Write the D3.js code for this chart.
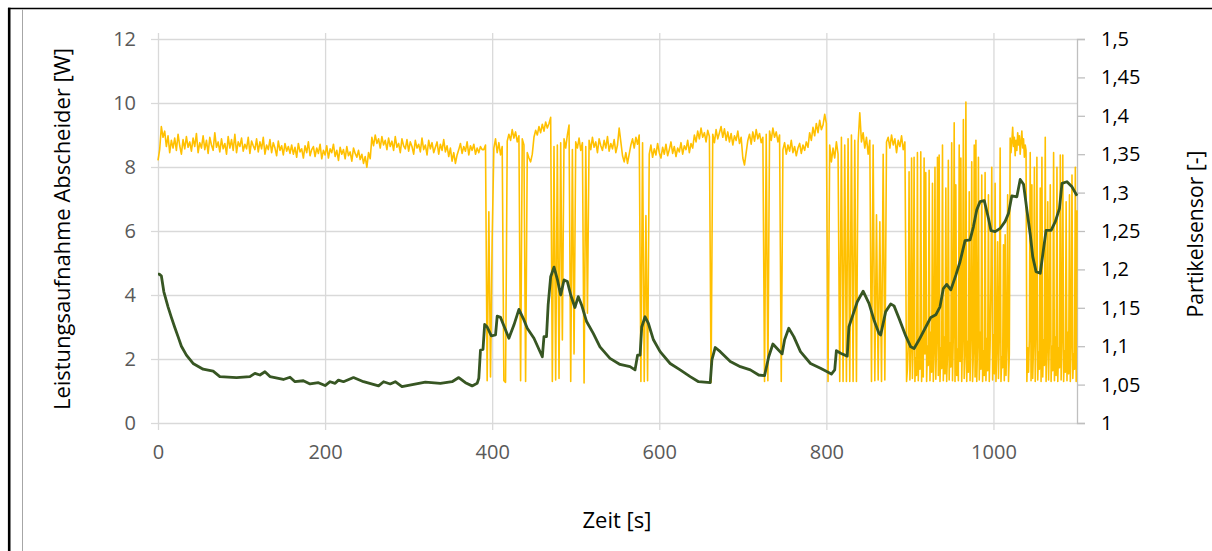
<!DOCTYPE html>
<html>
<head>
<meta charset="utf-8">
<script src="https://cdn.jsdelivr.net/npm/d3@7"></script>
<style>
  body { margin: 0; background: #ffffff; }
  text { font-family: "Open Sans", "Noto Sans", sans-serif; }
</style>
</head>
<body>
<div id="chart-area"></div>
<script>
// LEISTUNGSAUFNAHME ABSCHEIDER / PARTIKELSENSOR

// Data
const xTicks = [0, 200, 400, 600, 800, 1000]
const leftTicks = [0, 2, 4, 6, 8, 10, 12]
const rightTicks = [1, 1.05, 1.1, 1.15, 1.2, 1.25, 1.3, 1.35, 1.4, 1.45, 1.5]
const rightTickLabels = ["1", "1,05", "1,1", "1,15", "1,2", "1,25", "1,3", "1,35", "1,4", "1,45", "1,5"]

// Power draw of the separator [W], read as [time s, value]
const powerData = [
  [0, 4.65], [1.5, 4.65], [4, 4.6], [7, 4.1], [12, 3.63], [16, 3.3], [20, 2.99], [24, 2.7], [28, 2.4],
  [34, 2.12], [42, 1.86], [54, 1.68], [66, 1.62], [74, 1.45], [94, 1.42], [110, 1.45], [116, 1.55],
  [122, 1.5], [128, 1.6], [134, 1.45], [150, 1.36], [158, 1.43], [164, 1.29], [174, 1.32], [182, 1.22],
  [192, 1.26], [200, 1.17], [206, 1.29], [212, 1.24], [216, 1.34], [222, 1.29], [234, 1.42], [246, 1.29],
  [264, 1.16], [270, 1.29], [278, 1.22], [284, 1.29], [292, 1.14], [306, 1.21], [320, 1.28], [338, 1.24],
  [352, 1.29], [360, 1.42], [368, 1.26], [376, 1.16], [382, 1.24], [384, 1.4], [386, 2.28], [389, 2.3],
  [391, 3.08], [394, 3.0], [399, 2.72], [404, 2.75], [406, 3.34], [410, 3.3], [420, 2.65], [426, 3.06],
  [432, 3.55], [438, 3.22], [442, 2.96], [450, 2.65], [460, 2.07], [462, 2.7], [465, 2.7], [467, 3.69],
  [470, 4.57], [474, 4.87], [478, 4.49], [482, 4.0], [486, 4.47], [490, 4.42], [494, 4.0], [499, 3.61],
  [503, 3.95], [507, 3.69], [513, 3.17], [521, 2.8], [529, 2.38], [541, 2.02], [553, 1.83], [565, 1.76],
  [571, 1.66], [574, 2.12], [577, 2.12], [579, 3.0], [583, 3.32], [587, 3.11], [593, 2.6], [601, 2.23],
  [613, 1.86], [625, 1.66], [637, 1.45], [647, 1.29], [661, 1.26], [663, 1.97], [667, 2.36], [673, 2.23],
  [685, 1.92], [697, 1.76], [709, 1.66], [719, 1.5], [726, 1.48], [731, 2.07], [736, 2.47], [741, 2.33],
  [747, 2.16], [750, 2.6], [755, 2.96], [761, 2.7], [769, 2.23], [781, 1.86], [793, 1.71], [801, 1.6],
  [806, 1.53], [810, 1.66], [812, 2.26], [817, 2.18], [825, 2.09], [827, 3.01], [831, 3.32], [837, 3.79],
  [844, 4.12], [851, 3.74], [857, 3.22], [863, 2.8], [865, 2.75], [871, 3.48], [877, 3.72], [881, 3.66],
  [887, 3.27], [895, 2.72], [901, 2.38], [905, 2.33], [911, 2.6], [919, 3.0], [925, 3.3], [931, 3.38],
  [936, 3.63], [940, 4.2], [944, 4.33], [949, 4.16], [955, 4.62], [960, 5.04], [966, 5.7], [972, 5.72],
  [976, 6.13], [980, 6.66], [984, 6.92], [989, 6.95], [994, 6.4], [997, 6.01], [1002, 5.98], [1008, 6.08],
  [1014, 6.3], [1018, 6.55], [1022, 7.1], [1028, 7.07], [1032, 7.61], [1036, 7.46], [1040, 6.66],
  [1044, 5.9], [1047, 5.2], [1051, 4.73], [1056, 4.68], [1060, 5.45], [1063, 6.02], [1069, 6.02],
  [1074, 6.29], [1079, 6.7], [1082, 7.49], [1088, 7.54], [1094, 7.38], [1100, 7.1]
]

// Particle sensor [-], 0 s to 894 s every 2 s
const sensorEarlyStep = 2
const sensorEarly = [
  // 0 s
  1.342, 1.356, 1.386, 1.372, 1.380, 1.360, 1.374, 1.352, 1.368, 1.358, 1.371, 1.355, 1.376, 1.361, 1.350, 1.369, 1.357, 1.373, 1.359, 1.366,
  // 40 s
  1.354, 1.371, 1.360, 1.377, 1.352, 1.365, 1.358, 1.374, 1.356, 1.368, 1.351, 1.372, 1.362, 1.355, 1.378, 1.359, 1.366, 1.353, 1.370, 1.357,
  // 80 s
  1.364, 1.350, 1.373, 1.358, 1.369, 1.355, 1.376, 1.352, 1.366, 1.360, 1.371, 1.354, 1.363, 1.357, 1.372, 1.351, 1.367, 1.361, 1.356, 1.370,
  // 120 s
  1.353, 1.366, 1.357, 1.372, 1.350, 1.362, 1.356, 1.369, 1.352, 1.365, 1.358, 1.348, 1.367, 1.355, 1.361, 1.349, 1.364, 1.354, 1.360, 1.351,
  // 160 s
  1.362, 1.350, 1.359, 1.346, 1.364, 1.353, 1.357, 1.345, 1.361, 1.352, 1.366, 1.348, 1.356, 1.360, 1.347, 1.358, 1.351, 1.363, 1.344, 1.355,
  // 200 s
  1.349, 1.361, 1.345, 1.357, 1.352, 1.363, 1.347, 1.355, 1.342, 1.359, 1.350, 1.356, 1.344, 1.360, 1.348, 1.353, 1.341, 1.358, 1.351, 1.346,
  // 240 s
  1.355, 1.343, 1.350, 1.338, 1.347, 1.333, 1.352, 1.344, 1.372, 1.361, 1.375, 1.364, 1.370, 1.358, 1.373, 1.362, 1.368, 1.356, 1.371, 1.360,
  // 280 s
  1.367, 1.355, 1.373, 1.359, 1.364, 1.352, 1.370, 1.361, 1.357, 1.369, 1.354, 1.366, 1.360, 1.350, 1.368, 1.358, 1.363, 1.353, 1.371, 1.356,
  // 320 s
  1.362, 1.349, 1.368, 1.357, 1.365, 1.352, 1.359, 1.366, 1.350, 1.363, 1.355, 1.369, 1.353, 1.361, 1.347, 1.358, 1.341, 1.352, 1.338, 1.349,
  // 360 s
  1.356, 1.364, 1.351, 1.360, 1.354, 1.366, 1.349, 1.361, 1.355, 1.363, 1.350, 1.358, 1.352, 1.360, 1.356,
  // 390 s
  1.356, 1.362, 1.055, 1.275, 1.060, 1.240, 1.358, 1.370, 1.352, 1.365, 1.349, 1.360, 1.055, 1.053, 1.367, 1.376, 1.368, 1.382, 1.371, 1.379,
  // 430 s
  1.366, 1.374, 1.055, 1.370, 1.362, 1.054, 1.352, 1.345, 1.340, 1.350, 1.372, 1.381, 1.375, 1.386, 1.378, 1.389, 1.380, 1.392, 1.384, 1.390,
  // 470 s
  1.398, 1.054, 1.360, 1.056, 1.362, 1.058, 1.365, 1.108, 1.370, 1.358, 1.375, 1.388, 1.054, 1.356, 1.090, 1.366, 1.358, 1.371, 1.355, 1.365,
  // 510 s
  1.052, 1.360, 1.143, 1.368, 1.356, 1.372, 1.359, 1.366, 1.352, 1.370, 1.361, 1.355, 1.368, 1.358, 1.373, 1.354, 1.364, 1.357, 1.369, 1.352,
  // 550 s
  1.362, 1.384, 1.366, 1.348, 1.340, 1.352, 1.338, 1.350, 1.362, 1.370, 1.358, 1.372, 1.363, 1.375, 1.054, 1.365, 1.054, 1.270, 1.055, 1.350,
  // 590 s
  1.362, 1.346, 1.357, 1.349, 1.364, 1.352, 1.345, 1.359, 1.350, 1.363, 1.348, 1.356, 1.366, 1.351, 1.360, 1.347, 1.358, 1.353, 1.365, 1.350,
  // 630 s
  1.361, 1.356, 1.368, 1.352, 1.364, 1.358, 1.375, 1.366, 1.380, 1.370, 1.384, 1.372, 1.378, 1.366, 1.381, 1.373, 1.053, 1.376, 1.365, 1.382,
  // 670 s
  1.370, 1.378, 1.386, 1.372, 1.383, 1.368, 1.379, 1.366, 1.377, 1.362, 1.374, 1.368, 1.380, 1.364, 1.372, 1.345, 1.336, 1.352, 1.368, 1.376,
  // 710 s
  1.363, 1.379, 1.367, 1.382, 1.370, 1.377, 1.365, 1.372, 1.054, 1.376, 1.055, 1.380, 1.368, 1.384, 1.372, 1.379, 1.366, 1.375, 1.054, 1.356,
  // 750 s
  1.365, 1.350, 1.362, 1.354, 1.368, 1.352, 1.360, 1.348, 1.358, 1.364, 1.351, 1.362, 1.355, 1.366, 1.359, 1.378, 1.368, 1.385, 1.374, 1.390,
  // 790 s
  1.378, 1.394, 1.382, 1.388, 1.402, 1.390, 1.054, 1.362, 1.340, 1.358, 1.345, 1.366, 1.350, 1.054, 1.372, 1.054, 1.362, 1.054, 1.370, 1.054,
  // 830 s
  1.375, 1.054, 1.368, 1.054, 1.365, 1.404, 1.366, 1.378, 1.358, 1.372, 1.350, 1.368, 1.054, 1.362, 1.055, 1.271, 1.056, 1.262, 1.054, 1.350,
  // 870 s
  1.056, 1.366, 1.372, 1.358, 1.375, 1.362, 1.370, 1.352, 1.368, 1.360, 1.374, 1.356, 1.366
]

// Particle sensor [-], 896 s to 1100 s every 1 s
const sensorLateStart = 896
const sensorLate = [
  // 896 s
  1.054, 1.070, 1.100, 1.327, 1.056, 1.095, 1.345, 1.058, 1.110, 1.346, 1.054, 1.085, 1.062, 1.352, 1.055, 1.105, 1.070, 1.353, 1.054, 1.115,
  // 916 s
  1.060, 1.345, 1.090, 1.326, 1.054, 1.100, 1.075, 1.329, 1.055, 1.118, 1.066, 1.312, 1.054, 1.092, 1.333, 1.057, 1.108, 1.346, 1.062, 1.349,
  // 936 s
  1.054, 1.098, 1.071, 1.362, 1.055, 1.112, 1.064, 1.306, 1.054, 1.090, 1.342, 1.056, 1.104, 1.073, 1.365, 1.055, 1.118, 1.391, 1.054, 1.310,
  // 956 s
  1.062, 1.096, 1.055, 1.362, 1.080, 1.345, 1.054, 1.110, 1.395, 1.058, 1.088, 1.418, 1.054, 1.106, 1.066, 1.301, 1.055, 1.114, 1.340, 1.054,
  // 976 s
  1.092, 1.362, 1.060, 1.368, 1.054, 1.102, 1.346, 1.056, 1.118, 1.070, 1.323, 1.054, 1.094, 1.062, 1.326, 1.055, 1.110, 1.068, 1.297, 1.054,
  // 996 s
  1.100, 1.185, 1.333, 1.056, 1.115, 1.064, 1.312, 1.054, 1.095, 1.236, 1.058, 1.112, 1.358, 1.054, 1.086, 1.072, 1.232, 1.055, 1.245, 1.062,
  // 1016 s
  1.104, 1.297, 1.054, 1.090, 1.371, 1.352, 1.366, 1.385, 1.360, 1.372, 1.348, 1.368, 1.355, 1.378, 1.362, 1.374, 1.350, 1.366, 1.380, 1.358,
  // 1036 s
  1.370, 1.346, 1.362, 1.355, 1.054, 1.098, 1.066, 1.110, 1.352, 1.055, 1.310, 1.058, 1.104, 1.333, 1.054, 1.116, 1.346, 1.056, 1.092, 1.070,
  // 1056 s
  1.306, 1.054, 1.346, 1.060, 1.108, 1.075, 1.372, 1.054, 1.096, 1.288, 1.056, 1.114, 1.310, 1.054, 1.100, 1.068, 1.352, 1.055, 1.112, 1.062,
  // 1076 s
  1.333, 1.054, 1.098, 1.072, 1.349, 1.056, 1.110, 1.349, 1.054, 1.094, 1.066, 1.288, 1.055, 1.118, 1.064, 1.297, 1.054, 1.102, 1.323, 1.058,
  // 1096 s
  1.090, 1.070, 1.333, 1.054, 1.277
]

// Set up plot area
const WIDTH = 1212
const HEIGHT = 551
const PLOT = { LEFT: 158, RIGHT: 1077, TOP: 39, BOTTOM: 423 }

const svg = d3.select("#chart-area").append("svg")
    .attr("width", WIDTH)
    .attr("height", HEIGHT)

// Frame
svg.append("line").attr("x1", 8).attr("x2", WIDTH).attr("y1", 8.5).attr("y2", 8.5)
    .attr("stroke", "#000").attr("stroke-width", 1.5)
svg.append("line").attr("x1", 9.2).attr("x2", 9.2).attr("y1", 7.8).attr("y2", HEIGHT)
    .attr("stroke", "#000").attr("stroke-width", 2.6)
svg.append("line").attr("x1", 22.5).attr("x2", 22.5).attr("y1", 9.5).attr("y2", HEIGHT)
    .attr("stroke", "#a6a6a6").attr("stroke-width", 1)

// Scales
const x = d3.scaleLinear().domain([0, 1100]).range([PLOT.LEFT, PLOT.RIGHT])
const yLeft = d3.scaleLinear().domain([0, 12]).range([PLOT.BOTTOM, PLOT.TOP])
const yRight = d3.scaleLinear().domain([1, 1.5]).range([PLOT.BOTTOM, PLOT.TOP])

const GRID = "#d9d9d9"

// Horizontal gridlines + left ticks
const gLeft = svg.append("g")
    .attr("transform", `translate(${PLOT.LEFT}, 0)`)
    .call(d3.axisLeft(yLeft).tickValues(leftTicks).tickSize(7).tickPadding(15))
gLeft.select(".domain").remove()
gLeft.selectAll(".tick line").attr("stroke", GRID).attr("stroke-width", 1.3)
gLeft.selectAll(".tick").append("line")
    .attr("x2", PLOT.RIGHT - PLOT.LEFT)
    .attr("stroke", GRID).attr("stroke-width", 1.3)
gLeft.selectAll(".tick text")
    .attr("fill", "#595959").attr("font-size", "20px")
    .style("font-family", "'Open Sans', sans-serif")

// Vertical gridlines + x ticks
const gX = svg.append("g")
    .attr("transform", `translate(0, ${PLOT.BOTTOM})`)
    .call(d3.axisBottom(x).tickValues(xTicks).tickSize(7).tickPadding(15)
        .tickFormat(d3.format("d")))
gX.select(".domain").remove()
gX.selectAll(".tick line").attr("stroke", GRID).attr("stroke-width", 1.3)
gX.selectAll(".tick").append("line")
    .attr("y1", 0).attr("y2", PLOT.TOP - PLOT.BOTTOM - 6)
    .attr("stroke", GRID).attr("stroke-width", 1.3)
gX.selectAll(".tick text")
    .attr("fill", "#595959").attr("font-size", "20px")
    .style("font-family", "'Open Sans', sans-serif")

// Right axis
const gRight = svg.append("g")
    .attr("transform", `translate(${PLOT.RIGHT}, 0)`)
    .call(d3.axisRight(yRight).tickValues(rightTicks).tickSize(8).tickPadding(16)
        .tickFormat((d, i) => rightTickLabels[i]))
gRight.select(".domain").attr("stroke", "#bfbfbf").attr("stroke-width", 1.3)
gRight.selectAll(".tick line").attr("stroke", "#bfbfbf").attr("stroke-width", 1.3)
gRight.selectAll(".tick text")
    .attr("fill", "#000").attr("font-size", "20px")
    .style("font-family", "'Open Sans', sans-serif")

// Lines
const sensorSeries = sensorEarly.map((v, i) => [i * sensorEarlyStep, v])
    .concat(sensorLate.map((v, i) => [sensorLateStart + i, v]))

const sensorLine = d3.line().x(d => x(d[0])).y(d => yRight(d[1]))
const powerLine = d3.line().x(d => x(d[0])).y(d => yLeft(d[1]))

svg.append("path")
    .datum(sensorSeries)
    .attr("d", sensorLine)
    .attr("fill", "none")
    .attr("stroke", "#ffc000")
    .attr("stroke-width", 1.6)
    .attr("stroke-linejoin", "round")

svg.append("path")
    .datum(powerData)
    .attr("d", powerLine)
    .attr("fill", "none")
    .attr("stroke", "#375623")
    .attr("stroke-width", 2.8)
    .attr("stroke-linejoin", "round")

// Axis titles
svg.append("text")
    .attr("transform", "translate(70, 229) rotate(-90)")
    .attr("text-anchor", "middle")
    .attr("font-size", "21px")
    .attr("textLength", 362)
    .attr("lengthAdjust", "spacingAndGlyphs")
    .attr("fill", "#000")
    .text("Leistungsaufnahme Abscheider [W]")

svg.append("text")
    .attr("transform", "translate(1203, 234) rotate(-90)")
    .attr("text-anchor", "middle")
    .attr("font-size", "21px")
    .attr("textLength", 167)
    .attr("lengthAdjust", "spacingAndGlyphs")
    .attr("fill", "#000")
    .text("Partikelsensor [-]")

svg.append("text")
    .attr("x", 617)
    .attr("y", 528)
    .attr("text-anchor", "middle")
    .attr("font-size", "21px")
    .attr("textLength", 69)
    .attr("lengthAdjust", "spacingAndGlyphs")
    .attr("fill", "#000")
    .text("Zeit [s]")
</script>
</body>
</html>
